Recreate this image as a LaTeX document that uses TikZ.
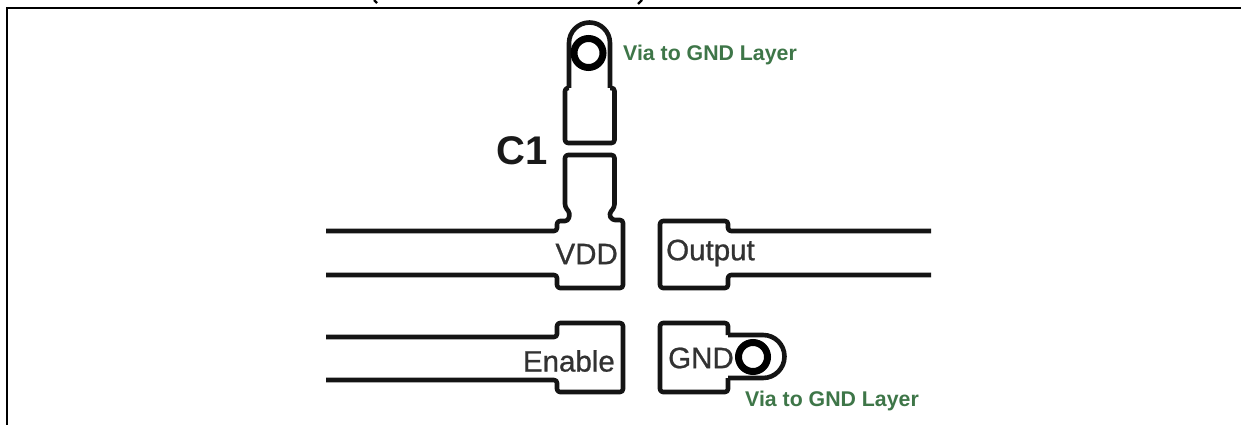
\documentclass[tikz,border=0pt]{standalone}
\usepackage{fontspec}
\setmainfont{Liberation Sans}
\newfontfamily\pinfont[FakeBold=0.8]{Liberation Sans}
\definecolor{viagreen}{RGB}{62,118,72}
\definecolor{lbl}{RGB}{50,50,50}
\tikzset{
  trace/.style={draw=black!92,line width=4.6pt,line join=round,rounded corners=3pt},
  hole/.style={draw=black,line width=7pt,fill=white},
  pin/.style={text=lbl,font=\pinfont\fontsize{29.5}{30}\selectfont,inner sep=0pt},
  vialabel/.style={text=viagreen,font=\bfseries\fontsize{21.3}{22}\selectfont,inner sep=0pt},
  frameline/.style={draw=black,line width=2.4pt}
}
\begin{document}
\begin{tikzpicture}[x=1pt,y=-1pt]
\useasboundingbox (0,0) rectangle (1241,425);
\fill[white] (0,0) rectangle (1241,425);
% frame
\coordinate (fa) at (7,425); \coordinate (fb) at (7,8); \coordinate (fc) at (1241,8);
\draw[frameline] (fa) -- (fb) -- (fc);
% clipped title remnants
\draw[line width=2.4pt] (374,0) -- (377,3) (642,0) -- (638,4);
% C1 upper pad with via
\draw[trace,rounded corners=0pt] (569,88) -- (569,43) arc[start angle=180,end angle=360,radius=20.5] -- (610,88);
\draw[trace] (569,88) -- (565,88) -- (565,143) -- (614.5,143) -- (614.5,88) -- (610,88);
\node[circle,hole,minimum size=29pt,inner sep=0pt] (viaA) at (588.5,53) {};
% C1 lower pad + VDD
\draw[trace] (326,231) -- (557,231) -- (557,221) -- (568,221) -- (570,213) -- (565,207) -- (565,155) -- (614.5,155) -- (614.5,207) -- (609,214) -- (612,220) -- (623,220) -- (623,288) -- (557,288) -- (557,275) -- (326,275);
% Output
\draw[trace] (931,231) -- (728,231) -- (728,221) -- (660,221) -- (660,288) -- (728,288) -- (728,275) -- (931,275);
% Enable
\draw[trace] (326,337) -- (557,337) -- (557,323) -- (623,323) -- (623,392) -- (557,392) -- (557,380) -- (326,380);
% GND with via
\draw[trace] (728,335) -- (728,323) -- (660,323) -- (660,392) -- (728,392) -- (728,378);
\draw[trace,rounded corners=0pt] (728,335) -- (763,335) arc[start angle=-90,end angle=90,radius=21.5] -- (728,378);
\node[circle,hole,minimum size=29pt,inner sep=0pt] (viaB) at (753,357) {};
% labels
\node[vialabel,anchor=west] (la) at (623,55) {Via to GND Layer};
\node[vialabel,anchor=west] (lb) at (745,401) {Via to GND Layer};
\node[inner sep=0pt,anchor=west,text=black!90,font=\bfseries\fontsize{40}{40}\selectfont] (c1) at (496,151) {C1};
\node[pin,anchor=east] (vdd) at (618,254) {VDD};
\node[pin,anchor=west] (out) at (666,253) {Output};
\node[pin,anchor=east] (en) at (615,361) {Enable};
\node[pin,anchor=west] (gnd) at (668,358) {GND};
\end{tikzpicture}
\end{document}
